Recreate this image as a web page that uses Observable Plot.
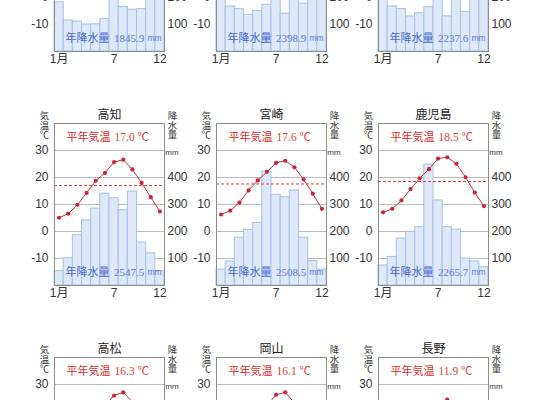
<!DOCTYPE html>
<html><head><meta charset="utf-8">
<script src="https://cdn.jsdelivr.net/npm/d3@7"></script>
<script src="https://cdn.jsdelivr.net/npm/@observablehq/plot@0.6"></script>
<style>
body{margin:0;background:#fff;}
#wrap{position:relative;width:540px;height:400px;overflow:hidden;background:#fff;}
#wrap svg{position:absolute;overflow:visible;}
</style></head><body><div id="wrap"></div>
<script>
const months = [1,2,3,4,5,6,7,8,9,10,11,12];
const monthTicks = [1,7,12];
const gridTemps = [-10,0,10,20,30];
// tick labels that fall inside the visible picture, per row
const leftTicksByRow = [[-10,0], [-10,0,10,20,30], [30]];
const rightTicksByRow = [[-10,0], [-10,0,10,20], []];   // temp positions of 100..400 mm
const xTicksByRow = [monthTicks, monthTicks, []];

// top row (titles & temperatures cut off in the picture)
const topAPrec = [182,115,111,100,101,121,230,165,155,157,205,205];
const topBPrec = [256,167,157,136,150,173,233,140,226,177,265,301];
const topCPrec = [230,167,157,130,142,164,240,130,220,146,260,290];
const topAAnnual = "1845.9", topBAnnual = "2398.9", topCAnnual = "2237.6";

// middle row
const kochiTitle = "高知";
const kochiTemp = [5.1,6.6,9.9,14.3,18.8,21.7,25.7,26.6,23.0,18.0,12.7,7.4];
const kochiPrec = [53,101,186,241,285,340,323,279,348,159,119,53];
const kochiMean = 17.0, kochiAnnual = "2547.5";

const miyazakiTitle = "宮崎";
const miyazakiTemp = [6.3,7.7,10.7,15.2,18.9,22.1,25.4,26.2,23.8,19.3,14.0,8.4];
const miyazakiPrec = [59,89,177,206,232,422,336,327,352,177,90,59];
const miyazakiMean = 17.6, miyazakiAnnual = "2508.5";

const kagoshimaTitle = "鹿児島";
const kagoshimaTemp = [7.1,8.4,11.5,15.7,19.7,23.1,27.0,27.5,25.1,20.1,14.4,9.4];
const kagoshimaPrec = [74,106,174,199,216,448,315,216,207,100,89,68];
const kagoshimaMean = 18.5, kagoshimaAnnual = "2265.7";

// bottom row (only the top of each chart is visible)
const takamatsuTitle = "高松";
const takamatsuTemp = [4.7,5.1,8.1,13.6,18.3,22.2,25.9,27.1,23.5,17.6,12.0,7.1];
const takamatsuMean = 16.3;

const okayamaTitle = "岡山";
const okayamaTemp = [4.1,4.7,7.9,13.4,18.3,22.2,26.2,27.1,23.2,17.1,11.2,6.3];
const okayamaMean = 16.1;

const naganoTitle = "長野";
const naganoTemp = [-1.4,-0.7,3.0,9.8,15.2,19.3,23.0,24.4,19.8,13.1,6.7,1.3];
const naganoMean = 11.9;

const panels = [
  {prec: topAPrec, annual: topAAnnual},
  {prec: topBPrec, annual: topBAnnual},
  {prec: topCPrec, annual: topCAnnual},
  {title: kochiTitle, temp: kochiTemp, prec: kochiPrec, mean: kochiMean, annual: kochiAnnual},
  {title: miyazakiTitle, temp: miyazakiTemp, prec: miyazakiPrec, mean: miyazakiMean, annual: miyazakiAnnual},
  {title: kagoshimaTitle, temp: kagoshimaTemp, prec: kagoshimaPrec, mean: kagoshimaMean, annual: kagoshimaAnnual},
  {title: takamatsuTitle, temp: takamatsuTemp, mean: takamatsuMean},
  {title: okayamaTitle, temp: okayamaTemp, mean: okayamaMean},
  {title: naganoTitle, temp: naganoTemp, mean: naganoMean}
];

const SANS = "'Liberation Sans', Arial, 'Noto Sans CJK JP', sans-serif";
const JP = "'Noto Sans CJK JP', sans-serif";
const SERIF = "'Liberation Serif', 'Times New Roman', 'Noto Sans CJK JP', serif";

function stacked(label, anchor, dx) {
  return Plot.text([label], {frameAnchor: anchor, dx, dy: -11, textAnchor: "middle",
    lineAnchor: "top", lineHeight: 1.02, fontSize: 9.4, fontFamily: JP, fill: "#333"});
}

function panel(p, row) {
  const marks = [];
  marks.push(Plot.ruleY(gridTemps, {stroke: "#b9b9b9", strokeWidth: 1}));
  if (p.prec) {
    const rows = months.map((m, i) => ({m, p: p.prec[i]}));
    marks.push(Plot.rectY(rows, {
      x1: d => d.m - 0.5, x2: d => d.m + 0.5,
      y1: d => -20, y2: d => d.p / 10 - 20,
      fill: "#dde9f9", stroke: "#a6c1e4", strokeWidth: 1
    }));
  }
  if (p.mean != null) {
    marks.push(Plot.ruleY([p.mean], {stroke: "#d83838", strokeWidth: 1, strokeDasharray: "3,2"}));
  }
  if (p.temp) {
    const rows = months.map((m, i) => ({m, t: p.temp[i]}));
    marks.push(Plot.line(rows, {x: "m", y: "t", stroke: "#c8303c", strokeWidth: 1}));
    marks.push(Plot.dot(rows, {x: "m", y: "t", r: 2.1, fill: "#cc2436"}));
  }
  // right axis (precipitation)
  marks.push(Plot.text(rightTicksByRow[row], {y: d => d, frameAnchor: "right", dx: 3, textAnchor: "start",
    text: d => String((d + 20) * 10), fontSize: 12, fontFamily: SANS, fill: "#333"}));
  if (p.title) {
    marks.push(stacked("気\n温\n℃", "top-left", -10));
    marks.push(stacked("降\n水\n量", "top-right", 8));
    marks.push(Plot.text(["mm"], {frameAnchor: "top-right", dx: 7.5, dy: 29, textAnchor: "middle",
      lineAnchor: "middle", fontSize: 8, fontFamily: SANS, fill: "#333"}));
    marks.push(Plot.text([p.title], {frameAnchor: "top", dy: -8, lineAnchor: "middle",
      fontSize: 12, fontFamily: JP, fill: "#222"}));
  }
  if (p.mean != null) {
    marks.push(Plot.text(["平年気温"], {frameAnchor: "top-left", dx: 12, dy: 14, textAnchor: "start",
      lineAnchor: "middle", fontSize: 11, fontFamily: JP, fill: "#e02828"}));
    marks.push(Plot.text([p.mean.toFixed(1) + " ℃"], {frameAnchor: "top-left", dx: 60, dy: 14, textAnchor: "start",
      lineAnchor: "middle", fontSize: 11.5, fontFamily: SERIF, fill: "#e23a3a"}));
  }
  if (p.annual) {
    marks.push(Plot.text(["年降水量"], {frameAnchor: "bottom-left", dx: 11, dy: -13.5, textAnchor: "start",
      lineAnchor: "middle", fontSize: 11, fontFamily: JP, fill: "#4a66d0"}));
    marks.push(Plot.text([p.annual], {frameAnchor: "bottom-left", dx: 59.5, dy: -13.5, textAnchor: "start",
      lineAnchor: "middle", fontSize: 11, fontFamily: SERIF, fill: "#5a74d8"}));
    marks.push(Plot.text(["mm"], {frameAnchor: "bottom-left", dx: 93, dy: -13, textAnchor: "start",
      lineAnchor: "middle", fontSize: 8.5, fontFamily: SANS, fill: "#5a74d8"}));
  }
  marks.push(Plot.frame({stroke: "#8c8c8c"}));
  return Plot.plot({
    width: 200, height: 234,
    marginLeft: 54, marginRight: 36, marginTop: 34, marginBottom: 38,
    style: {background: "transparent", overflow: "visible", fontFamily: SANS, fontSize: "12px", color: "#333"},
    x: {type: "linear", domain: [0.5, 12.5], ticks: xTicksByRow[row], tickSize: 0, tickPadding: 3,
        tickFormat: d => d === 1 ? "1月" : String(d), label: null},
    y: {type: "linear", domain: [-20, 40], ticks: leftTicksByRow[row], tickSize: 0, tickPadding: 6,
        tickFormat: d => String(d), label: null},
    marks
  });
}

const wrap = document.getElementById("wrap");
panels.forEach((p, i) => {
  const col = i % 3, row = Math.floor(i / 3);
  const svg = panel(p, row);
  svg.style.left = (162 * col) + "px";
  svg.style.top = (89 + 234 * (row - 1)) + "px";
  wrap.appendChild(svg);
});
</script></body></html>
